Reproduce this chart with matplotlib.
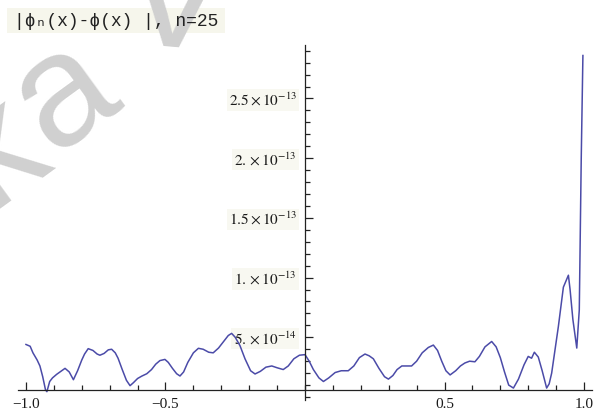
import matplotlib
matplotlib.use("Agg")
import matplotlib.pyplot as plt
import numpy as np
from matplotlib.patches import Rectangle
from matplotlib.ticker import MultipleLocator, FixedLocator, FixedFormatter

# |phi_n(x) - phi(x)| for n=25 (y in units of 1e-14)
xs = [-1.0, -0.985, -0.975, -0.96, -0.95, -0.94, -0.93, -0.925, -0.915, -0.905,
      -0.89, -0.875, -0.86, -0.845, -0.83, -0.815, -0.80, -0.79, -0.777, -0.76,
      -0.745, -0.735, -0.72, -0.705, -0.693, -0.68, -0.67, -0.655, -0.64, -0.627,
      -0.615, -0.60, -0.585, -0.567, -0.55, -0.535, -0.52, -0.502, -0.49, -0.475,
      -0.46, -0.448, -0.435, -0.42, -0.40, -0.382, -0.365, -0.345, -0.329, -0.31,
      -0.29, -0.275, -0.263, -0.25, -0.233, -0.215, -0.195, -0.179, -0.16, -0.14,
      -0.119, -0.10, -0.078, -0.06, -0.04, -0.02, 0.0, 0.015, 0.03, 0.05,
      0.066, 0.085, 0.108, 0.13, 0.155, 0.175, 0.195, 0.215, 0.23, 0.245,
      0.265, 0.285, 0.299, 0.315, 0.33, 0.347, 0.365, 0.382, 0.40, 0.42,
      0.442, 0.46, 0.475, 0.49, 0.505, 0.52, 0.54, 0.557, 0.573, 0.59,
      0.609, 0.625, 0.645, 0.669, 0.685, 0.70, 0.715, 0.73, 0.747, 0.765,
      0.785, 0.80, 0.812, 0.822, 0.836, 0.85, 0.866, 0.875, 0.884, 0.895,
      0.908, 0.926, 0.944, 0.95, 0.96, 0.974, 0.983, 0.99, 0.996]
err = [4.4, 4.25, 3.7, 3.1, 2.6, 1.7, 0.6, 0.45, 1.3, 1.6,
       1.9, 2.15, 2.4, 2.1, 1.45, 2.2, 3.1, 3.6, 4.05, 3.9,
       3.6, 3.5, 3.65, 3.95, 4.0, 3.7, 3.25, 2.3, 1.4, 0.95,
       1.2, 1.55, 1.75, 1.95, 2.3, 2.75, 3.05, 3.15, 2.9, 2.4,
       1.95, 1.76, 2.1, 2.9, 3.7, 4.08, 4.0, 3.75, 3.7, 4.1,
       4.7, 5.15, 5.33, 5.0, 4.3, 3.2, 2.2, 1.93, 2.15, 2.5,
       2.6, 2.45, 2.3, 2.6, 3.2, 3.5, 3.55, 3.0, 2.3, 1.6,
       1.3, 1.6, 2.05, 2.2, 2.2, 2.6, 3.3, 3.6, 3.45, 3.2,
       2.4, 1.7, 1.5, 1.8, 2.3, 2.6, 2.6, 2.6, 3.0, 3.7,
       4.15, 4.35, 3.9, 3.0, 2.2, 1.85, 2.2, 2.6, 2.85, 3.0,
       2.95, 3.4, 4.2, 4.65, 4.2, 3.3, 2.1, 1.0, 0.75, 1.5,
       2.7, 3.4, 3.25, 3.75, 3.35, 2.2, 0.75, 1.1, 2.0, 3.8,
       5.9, 9.2, 10.2, 9.0, 6.5, 4.1, 7.3, 20.0, 28.6]

x_major = [-1.0, -0.5, 0.5, 1.0]
x_labels = ["\u22121.0", "\u22120.5", "0.5", "1.0"]
y_major = [5e-14, 10e-14, 15e-14, 20e-14, 25e-14]
y_labels = [r"$5.\times10^{-14}$", r"$1.\times10^{-13}$", r"$1.5\times10^{-13}$",
            r"$2.\times10^{-13}$", r"$2.5\times10^{-13}$"]
title = "|\u03d5\u2099(x)-\u03d5(x) |, n=25"
watermark = ["k", "a", "V"]

plt.rcParams["mathtext.fontset"] = "stix"
plt.rcParams["font.family"] = ["Liberation Serif", "DejaVu Serif"]

W, H = 595, 411
fig = plt.figure(figsize=(W / 100, H / 100), dpi=100)
ax = fig.add_axes([17.6 / W, 11 / H, 574.8 / W, 355 / H])

y = np.array(err) * 1e-14
ax.plot(xs, y, color="#4b4ba8", lw=1.1, solid_joinstyle="round")

ax.set_xlim(-1.03, 1.03)
ax.set_ylim(-0.25e-14, 29.48e-14)

for s in ["top", "right"]:
    ax.spines[s].set_visible(False)
ax.spines["left"].set_position(("data", 0))
ax.spines["bottom"].set_position(("data", 0.59e-14))
for s in ["left", "bottom"]:
    ax.spines[s].set_linewidth(0.9)
    ax.spines[s].set_color("#222222")

ax.xaxis.set_major_locator(FixedLocator(x_major))
ax.xaxis.set_major_formatter(FixedFormatter(x_labels))
ax.xaxis.set_minor_locator(MultipleLocator(0.1))
ax.yaxis.set_major_locator(FixedLocator(y_major))
ax.yaxis.set_major_formatter(FixedFormatter(y_labels))
ax.yaxis.set_minor_locator(MultipleLocator(1e-14))

ax.tick_params(which="both", direction="in", color="#222222", width=0.9)
ax.tick_params(which="major", length=5.5)
ax.tick_params(which="minor", length=3.5)
ax.tick_params(axis="x", which="major", pad=6, labelsize=11, labelcolor="#1a1a1a")
ax.tick_params(axis="y", which="major", pad=6, labelsize=11, labelcolor="#1a1a1a")
for lab in ax.get_yticklabels():
    lab.set_bbox(dict(facecolor="#f8f8f1", edgecolor="none", pad=1.5))

# title: beige box, then watermark, then the text on top
fig.patches.append(Rectangle((7 / W, 1 - 33 / H), 218 / W, 25 / H,
                             transform=fig.transFigure, facecolor="#f6f6ec",
                             edgecolor="none", zorder=1))
fig.text(14 / W, 1 - 21 / H, title, family=["Liberation Mono", "DejaVu Sans Mono"],
         fontsize=13, color="#222222", ha="left", va="center", zorder=3)

# faint watermark letters over the upper left (anchored at glyph baseline)
wm_pos = [(22, 186), (88, 128), (170, 47)]
wm_rot = [36, 36, -5]
for ch, (px, py), rot in zip(watermark, wm_pos, wm_rot):
    fig.text(px / W, 1 - py / H, ch, family=["Liberation Sans", "DejaVu Sans"],
             fontsize=115, color="#d0d0d0", rotation=rot,
             rotation_mode="anchor", ha="center", va="baseline", zorder=2)

fig.savefig("out.png", dpi=100)
